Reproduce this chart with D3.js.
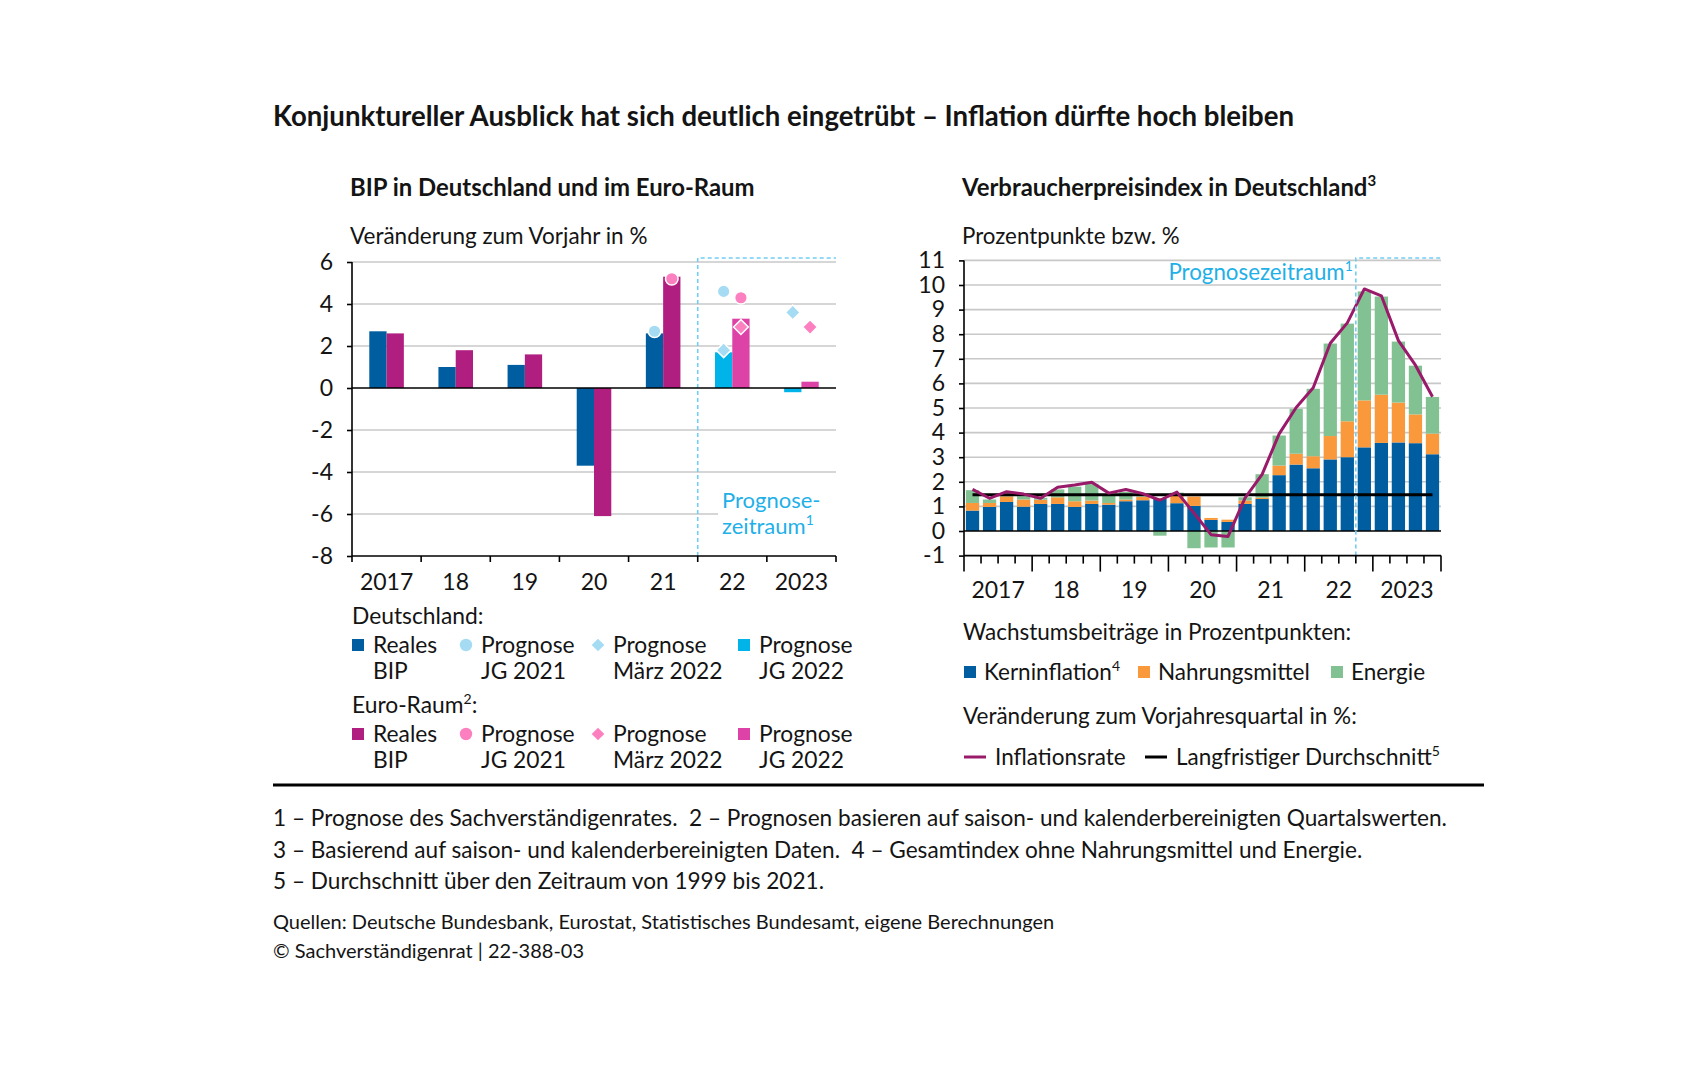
<!DOCTYPE html>
<html>
<head>
<meta charset="utf-8">
<script src="https://cdn.jsdelivr.net/npm/d3@7"></script>
<style>
  body { margin: 0; background: #ffffff; }
  svg text { font-family: Lato, "Open Sans", sans-serif; fill: #141414; }
</style>
</head>
<body>
<svg id="chart" width="1705" height="1080"></svg>
<script>
// =====================================================
// DATA: BIP (Veränderung zum Vorjahr in %)
// =====================================================
const bipYears = ["2017", "18", "19", "20", "21", "22", "2023"];
const deReal = [2.7, 1.0, 1.1, -3.7, 2.6, null, null];
const euReal = [2.6, 1.8, 1.6, -6.1, 5.3, null, null];
const deJG2022 = [null, null, null, null, null, 1.7, -0.2];
const euJG2022 = [null, null, null, null, null, 3.3, 0.3];
const deJG2021 = [null, null, null, null, 2.7, 4.6, null];
const euJG2021 = [null, null, null, null, 5.2, 4.3, null];
const deMaerz2022 = [null, null, null, null, null, 1.8, 3.6];
const euMaerz2022 = [null, null, null, null, null, 2.9, 2.9];
const bipTicks = [6, 4, 2, 0, -2, -4, -6, -8];
const bipForecastStart = "22";

// =====================================================
// DATA: Verbraucherpreisindex (Quartale)
// =====================================================
const quarters = [
  "2017Q1", "2017Q2", "2017Q3", "2017Q4", "2018Q1", "2018Q2", "2018Q3", "2018Q4",
  "2019Q1", "2019Q2", "2019Q3", "2019Q4", "2020Q1", "2020Q2", "2020Q3", "2020Q4",
  "2021Q1", "2021Q2", "2021Q3", "2021Q4", "2022Q1", "2022Q2", "2022Q3", "2022Q4",
  "2023Q1", "2023Q2", "2023Q3", "2023Q4",
];
const cpiYearLabels = ["2017", "18", "19", "20", "21", "22", "2023"];
const kern = [0.83, 0.98, 1.18, 0.99, 1.10, 1.10, 0.98, 1.10, 1.07, 1.21, 1.25, 1.31, 1.13, 1.02,
  0.45, 0.37, 1.10, 1.30, 2.27, 2.70, 2.55, 2.91, 3.00, 3.40, 3.58, 3.60, 3.57, 3.12];
const nahrung = [0.31, 0.16, 0.23, 0.29, 0.17, 0.27, 0.23, 0.14, 0.07, 0.07, 0.14, 0.03, 0.31, 0.38,
  0.08, 0.09, 0.14, 0.06, 0.39, 0.44, 0.49, 0.95, 1.46, 1.91, 1.96, 1.62, 1.17, 0.84];
const energie = [0.52, 0.14, 0.07, 0.13, 0.08, 0.32, 0.59, 0.68, 0.30, 0.31, 0.02, -0.19, 0.12, -0.70,
  -0.67, -0.67, 0.13, 0.95, 1.22, 1.83, 2.74, 3.76, 3.97, 4.43, 3.99, 2.48, 1.98, 1.49];
const inflation = [1.69, 1.33, 1.60, 1.50, 1.33, 1.78, 1.87, 1.98, 1.54, 1.69, 1.52, 1.25, 1.58, 0.73,
  -0.15, -0.22, 1.35, 2.30, 3.95, 5.02, 5.82, 7.63, 8.46, 9.84, 9.56, 7.74, 6.74, 5.46];
const durchschnitt = 1.47;
const cpiTicks = [11, 10, 9, 8, 7, 6, 5, 4, 3, 2, 1, 0, -1];
const cpiForecastStart = "2022Q4";

// =====================================================
// TEXTS
// =====================================================
const footnotes = [
  "1 – Prognose des Sachverständigenrates.  2 – Prognosen basieren auf saison- und kalenderbereinigten Quartalswerten.",
  "3 – Basierend auf saison- und kalenderbereinigten Daten.  4 – Gesamtindex ohne Nahrungsmittel und Energie.",
  "5 – Durchschnitt über den Zeitraum von 1999 bis 2021.",
];
const sources = [
  "Quellen: Deutsche Bundesbank, Eurostat, Statistisches Bundesamt, eigene Berechnungen",
  "© Sachverständigenrat | 22-388-03",
];

// =====================================================
// COLOURS
// =====================================================
const C = {
  deReal: "#005ea0",
  euReal: "#b01f80",
  deJG22: "#00b3e9",
  euJG22: "#dd42a6",
  deMark: "#a5dcf3",
  euMark: "#fc80c0",
  kern: "#005ea0",
  nahrung: "#f9993b",
  energie: "#82c292",
  inflation: "#9a1a6a",
  prog: "#1fb0e8",
  progLine: "#72cdf2",
  grid: "#c8c8c8",
};

const svg = d3.select("#chart");

// =====================================================
// TITLES
// =====================================================
svg.append("text").attr("x", 273).attr("y", 126)
  .attr("font-size", 27.6).attr("font-weight", 700)
  .text("Konjunktureller Ausblick hat sich deutlich eingetrübt – Inflation dürfte hoch bleiben");

svg.append("text").attr("x", 350).attr("y", 196)
  .attr("font-size", 23.9).attr("font-weight", 700)
  .text("BIP in Deutschland und im Euro-Raum");

const t2 = svg.append("text").attr("x", 962).attr("y", 196)
  .attr("font-size", 23.9).attr("font-weight", 700)
  .text("Verbraucherpreisindex in Deutschland");
t2.append("tspan").attr("dy", -10).attr("font-size", 15).text("3");

svg.append("text").attr("x", 350).attr("y", 244).attr("font-size", 22.5)
  .text("Veränderung zum Vorjahr in %");
svg.append("text").attr("x", 962).attr("y", 244).attr("font-size", 22.3)
  .text("Prozentpunkte bzw. %");

// =====================================================
// LEFT CHART: BIP
// =====================================================
const bx = d3.scaleBand().domain(bipYears).range([352, 836]).padding(0);
const by = d3.scaleLinear().domain([-8, 6]).range([556, 262]);
const bw = bx.bandwidth() * 0.25;

const left = svg.append("g");

left.append("g").selectAll("line").data(bipTicks.filter((t) => t !== 0 && t !== -8))
  .join("line")
  .attr("x1", bx.range()[0]).attr("x2", bx.range()[1])
  .attr("y1", (d) => by(d)).attr("y2", (d) => by(d))
  .attr("stroke", C.grid).attr("stroke-width", 1.6);

// white box behind the forecast label
left.append("rect").attr("x", 718).attr("y", 488).attr("width", 119).attr("height", 56)
  .attr("fill", "#fff");

function barsL(values, color, side) {
  left.append("g").selectAll("rect")
    .data(values.map((v, i) => ({ v, k: bipYears[i] })).filter((d) => d.v !== null))
    .join("rect")
    .attr("x", (d) => bx(d.k) + bx.bandwidth() / 2 + (side < 0 ? -bw : 0))
    .attr("width", bw)
    .attr("y", (d) => by(Math.max(0, d.v)))
    .attr("height", (d) => Math.abs(by(d.v) - by(0)))
    .attr("fill", color);
}
barsL(deReal, C.deReal, -1);
barsL(euReal, C.euReal, 1);
barsL(deJG2022, C.deJG22, -1);
barsL(euJG2022, C.euJG22, 1);

// forecast frame
const fx = bx(bipForecastStart);
left.append("path")
  .attr("d", `M${fx},${by(-8)}V258H${bx.range()[1]}`)
  .attr("fill", "none").attr("stroke", C.progLine)
  .attr("stroke-width", 1.6).attr("stroke-dasharray", "4,3");

function marksL(values, color, side, shape) {
  const sym = d3.symbol().type(shape === "circle" ? d3.symbolCircle : d3.symbolSquare)
    .size(shape === "circle" ? 125 : 110);
  left.append("g").selectAll("path")
    .data(values.map((v, i) => ({ v, k: bipYears[i] })).filter((d) => d.v !== null))
    .join("path")
    .attr("d", sym)
    .attr("transform", (d) =>
      `translate(${bx(d.k) + bx.bandwidth() / 2 + side * bw / 2},${by(d.v)})` +
      (shape === "diamond" ? " rotate(45)" : ""))
    .attr("fill", color).attr("stroke", "#fff").attr("stroke-width", 1.5);
}
marksL(deJG2021, C.deMark, -1, "circle");
marksL(euJG2021, C.euMark, 1, "circle");
marksL(deMaerz2022, C.deMark, -1, "diamond");
marksL(euMaerz2022, C.euMark, 1, "diamond");

// axes
left.append("line").attr("x1", bx.range()[0]).attr("x2", bx.range()[1])
  .attr("y1", by(0)).attr("y2", by(0)).attr("stroke", "#000").attr("stroke-width", 1.6);

const lyAxis = left.append("g").attr("transform", `translate(${bx.range()[0]},0)`)
  .call(d3.axisLeft(by).tickValues(bipTicks).tickSize(5).tickPadding(14)
    .tickFormat((d) => (d < 0 ? "-" + Math.abs(d) : d)));
lyAxis.select(".domain").attr("stroke-width", 1.6).attr("d", `M0,${by(6)}V${by(-8)}`);

const lxAxis = left.append("g").attr("transform", `translate(0,${by(-8)})`)
  .call(d3.axisBottom(bx).tickSize(0).tickPadding(18));
lxAxis.select(".domain").attr("stroke-width", 1.6).attr("d", `M${bx.range()[0]},0H${bx.range()[1]}`);
left.append("g").attr("transform", `translate(0,${by(-8)})`)
  .selectAll("line").data(bipYears.concat(["end"])).join("line")
  .attr("x1", (d) => (d === "end" ? bx.range()[1] : bx(d)))
  .attr("x2", (d) => (d === "end" ? bx.range()[1] : bx(d)))
  .attr("y1", 0).attr("y2", 6).attr("stroke", "#000").attr("stroke-width", 1.6);

[lyAxis, lxAxis].forEach((a) => {
  a.selectAll("text").attr("font-size", 23).attr("font-family", "Lato").attr("fill", "#141414");
  a.selectAll(".tick line").attr("stroke-width", 1.6);
});

const pl = left.append("text").attr("x", 722).attr("y", 508).attr("font-size", 22).style("fill", C.prog);
pl.append("tspan").attr("x", 722).text("Prognose-");
pl.append("tspan").attr("x", 722).attr("dy", 26).text("zeitraum");
pl.append("tspan").attr("dy", -9).attr("font-size", 14).text("1");

// =====================================================
// RIGHT CHART: VPI
// =====================================================
const qx = d3.scaleBand().domain(quarters).range([964, 1441]).padding(0);
const qy = d3.scaleLinear().domain([-1, 11]).range([555.6, 260.4]);
const step = qx.step();
const qbw = step * 0.78;

const right = svg.append("g");

right.append("g").selectAll("line").data(cpiTicks.filter((t) => t !== 0 && t !== -1))
  .join("line")
  .attr("x1", qx.range()[0]).attr("x2", qx.range()[1])
  .attr("y1", (d) => qy(d)).attr("y2", (d) => qy(d))
  .attr("stroke", C.grid).attr("stroke-width", 1.6);

const rows = quarters.map((q, i) => ({ q, kern: kern[i], nahrung: nahrung[i], energie: energie[i] }));
const stack = d3.stack().keys(["kern", "nahrung", "energie"]).offset(d3.stackOffsetDiverging)(rows);

right.append("g").selectAll("g").data(stack).join("g")
  .attr("fill", (s) => C[s.key])
  .selectAll("rect").data((s) => s).join("rect")
  .attr("x", (d) => qx(d.data.q) + (step - qbw) / 2)
  .attr("width", qbw)
  .attr("y", (d) => qy(Math.max(d[0], d[1])))
  .attr("height", (d) => Math.abs(qy(d[0]) - qy(d[1])));

right.append("line").attr("x1", qx.range()[0]).attr("x2", qx.range()[1])
  .attr("y1", qy(0)).attr("y2", qy(0)).attr("stroke", "#000").attr("stroke-width", 1.6);

// long-term average
right.append("line")
  .attr("x1", qx(quarters[0]) + step / 2).attr("x2", qx(quarters[quarters.length - 1]) + step / 2)
  .attr("y1", qy(durchschnitt)).attr("y2", qy(durchschnitt))
  .attr("stroke", "#000").attr("stroke-width", 3);

// inflation rate
right.append("path")
  .datum(inflation)
  .attr("d", d3.line().x((d, i) => qx(quarters[i]) + step / 2).y((d) => qy(d)))
  .attr("fill", "none").attr("stroke", C.inflation).attr("stroke-width", 3)
  .attr("stroke-linejoin", "round");

// forecast frame
const qfx = qx(cpiForecastStart);
right.append("path")
  .attr("d", `M${qfx},${qy(-1)}V258H${qx.range()[1]}`)
  .attr("fill", "none").attr("stroke", C.progLine)
  .attr("stroke-width", 1.6).attr("stroke-dasharray", "4,3");

const pr = right.append("text").attr("x", qfx - 3).attr("y", 280)
  .attr("font-size", 22.3).attr("text-anchor", "end").style("fill", C.prog);
pr.append("tspan").text("Prognosezeitraum");
pr.append("tspan").attr("dy", -9).attr("font-size", 14).text("1");

const ryAxis = right.append("g").attr("transform", `translate(${qx.range()[0]},0)`)
  .call(d3.axisLeft(qy).tickValues(cpiTicks).tickSize(5).tickPadding(14)
    .tickFormat((d) => (d < 0 ? "-" + Math.abs(d) : d)));
ryAxis.select(".domain").attr("stroke-width", 1.6).attr("d", `M0,${qy(11)}V${qy(-1)}`);

const rxAxis = right.append("g").attr("transform", `translate(0,${qy(-1)})`);
rxAxis.append("line").attr("x1", qx.range()[0]).attr("x2", qx.range()[1])
  .attr("stroke", "#000").attr("stroke-width", 1.6);
rxAxis.selectAll("line.tk").data(quarters.concat(["end"])).join("line").attr("class", "tk")
  .attr("x1", (d) => (d === "end" ? qx.range()[1] : qx(d)))
  .attr("x2", (d) => (d === "end" ? qx.range()[1] : qx(d)))
  .attr("y1", 0)
  .attr("y2", (d) => (d === "end" || d.endsWith("Q1") ? 16 : 8))
  .attr("stroke", "#000").attr("stroke-width", 1.6);
rxAxis.selectAll("text").data(cpiYearLabels).join("text")
  .attr("x", (d, i) => qx(quarters[i * 4]) + step * 2)
  .attr("y", 42).attr("text-anchor", "middle").attr("font-size", 23)
  .text((d) => d);

ryAxis.selectAll("text").attr("font-size", 23).attr("font-family", "Lato").attr("fill", "#141414");
ryAxis.selectAll(".tick line").attr("stroke-width", 1.6);

// =====================================================
// LEGENDS
// =====================================================
const legL = svg.append("g").attr("font-size", 22.8);
const legCols = [
  { x: 352, shape: "square", l1: "Reales", l2: "BIP" },
  { x: 460, shape: "circle", l1: "Prognose", l2: "JG 2021" },
  { x: 592, shape: "diamond", l1: "Prognose", l2: "März 2022" },
  { x: 738, shape: "square", l1: "Prognose", l2: "JG 2022" },
];
const legRows = [
  { head: "Deutschland", sup: null, y: 645, colors: [C.deReal, C.deMark, C.deMark, C.deJG22] },
  { head: "Euro-Raum", sup: "2", y: 734, colors: [C.euReal, C.euMark, C.euMark, C.euJG22] },
];
legRows.forEach((r) => {
  const h = legL.append("text").attr("x", 352).attr("y", r.y - 21).text(r.head);
  if (r.sup) {
    h.append("tspan").attr("dy", -9).attr("font-size", 14).text(r.sup);
    h.append("tspan").attr("dy", 9).text(":");
  } else {
    h.append("tspan").text(":");
  }
  legCols.forEach((c, i) => {
    const cx = c.x + 6;
    if (c.shape === "square") {
      legL.append("rect").attr("x", c.x).attr("y", r.y - 6).attr("width", 12).attr("height", 12)
        .attr("fill", r.colors[i]);
    } else if (c.shape === "circle") {
      legL.append("circle").attr("cx", cx).attr("cy", r.y).attr("r", 6.2).attr("fill", r.colors[i]);
    } else {
      legL.append("path").attr("d", d3.symbol().type(d3.symbolSquare).size(80))
        .attr("transform", `translate(${cx},${r.y}) rotate(45)`).attr("fill", r.colors[i]);
    }
    legL.append("text").attr("x", c.x + 21).attr("y", r.y + 8).text(c.l1);
    legL.append("text").attr("x", c.x + 21).attr("y", r.y + 34).text(c.l2);
  });
});

const legR = svg.append("g").attr("font-size", 22.5);
legR.append("text").attr("x", 963).attr("y", 640).text("Wachstumsbeiträge in Prozentpunkten:");
const stackItems = [
  { key: "kern", x: 964, label: "Kerninflation", sup: "4" },
  { key: "nahrung", x: 1138, label: "Nahrungsmittel", sup: null },
  { key: "energie", x: 1331, label: "Energie", sup: null },
];
stackItems.forEach((s) => {
  legR.append("rect").attr("x", s.x).attr("y", 666).attr("width", 12).attr("height", 12).attr("fill", C[s.key]);
  const t = legR.append("text").attr("x", s.x + 20).attr("y", 680).text(s.label);
  if (s.sup) t.append("tspan").attr("dy", -9).attr("font-size", 14).text(s.sup);
});
legR.append("text").attr("x", 963).attr("y", 724).text("Veränderung zum Vorjahresquartal in %:");
const lineItems = [
  { x: 964, color: C.inflation, label: "Inflationsrate", sup: null },
  { x: 1145, color: "#000", label: "Langfristiger Durchschnitt", sup: "5" },
];
lineItems.forEach((s) => {
  legR.append("line").attr("x1", s.x).attr("x2", s.x + 22).attr("y1", 757).attr("y2", 757)
    .attr("stroke", s.color).attr("stroke-width", 3);
  const t = legR.append("text").attr("x", s.x + 31).attr("y", 765).text(s.label);
  if (s.sup) t.append("tspan").attr("dy", -9).attr("font-size", 14).text(s.sup);
});

// =====================================================
// RULE + FOOTNOTES
// =====================================================
svg.append("line").attr("x1", 273).attr("x2", 1484).attr("y1", 785).attr("y2", 785)
  .attr("stroke", "#000").attr("stroke-width", 3);

svg.append("g").selectAll("text").data(footnotes).join("text")
  .attr("x", 273).attr("y", (d, i) => 826 + i * 31.5)
  .attr("font-size", 22.6).style("white-space", "pre").text((d) => d);

svg.append("g").selectAll("text").data(sources).join("text")
  .attr("x", 273).attr("y", (d, i) => 929 + i * 28.5)
  .attr("font-size", 20).text((d) => d);
</script>
</body>
</html>
